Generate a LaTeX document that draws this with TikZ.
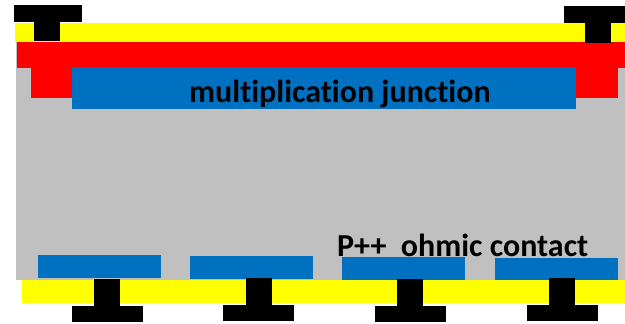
\documentclass[tikz,border=0pt]{standalone}
\usepackage{fontspec}
\setmainfont[Ligatures=NoCommon]{Carlito}
\definecolor{bulk}{HTML}{C0C0C0}
\definecolor{implant}{HTML}{0070C0}
\definecolor{metal}{HTML}{FFFF00}
\definecolor{ntype}{HTML}{FF0000}
\tikzset{
  bulk/.style={fill=bulk},
  implant/.style={fill=implant},
  metal/.style={fill=metal},
  ntype/.style={fill=ntype},
  pad/.style={fill=black},
  label/.style={font=\fontsize{32}{36}\selectfont\bfseries, inner sep=0pt, anchor=base west}
}
\begin{document}
\begin{tikzpicture}[x=1pt,y=-1pt]
  \clip (0,0) rectangle (625,324);
  % silicon bulk
  \fill[bulk] (16,42) rectangle (625,280);
  % n-type layer with its side tabs
  \fill[ntype] (17,42) rectangle (625,68);
  \fill[ntype] (31,67) rectangle (73,98);
  \fill[ntype] (575,67) rectangle (618,98);
  \fill[implant] (72,67) rectangle (576,109);
  % front metal and contacts
  \fill[metal] (15,23) rectangle (625,42);
  \fill[pad] (14,5) rectangle (82,22);
  \fill[pad] (34,21) rectangle (60,41);
  \fill[pad] (564,6) rectangle (632,23);
  \fill[pad] (585,22) rectangle (611,43);
  % back side implants
  \fill[implant] (38,255) rectangle (161,278);
  \fill[implant] (190,256) rectangle (313,279);
  \fill[implant] (342,257) rectangle (465,280);
  \fill[implant] (495,258) rectangle (618,281);
  % back metal and contacts
  \fill[metal] (22,280) rectangle (625,303);
  \fill[pad] (94,279) rectangle (120,307);
  \fill[pad] (72,306) rectangle (143,322);
  \fill[pad] (246,278) rectangle (272,306);
  \fill[pad] (223,305) rectangle (294,321);
  \fill[pad] (397,279) rectangle (423,307);
  \fill[pad] (375,306) rectangle (446,322);
  \fill[pad] (549,278) rectangle (575,306);
  \fill[pad] (527,305) rectangle (598,321);
  % labels
  \node[label] (junction) at (189,102) {multiplication junction};
  \node[label] (ohmic) at (337,256) {P++\ \ ohmic contact};
\end{tikzpicture}
\end{document}
